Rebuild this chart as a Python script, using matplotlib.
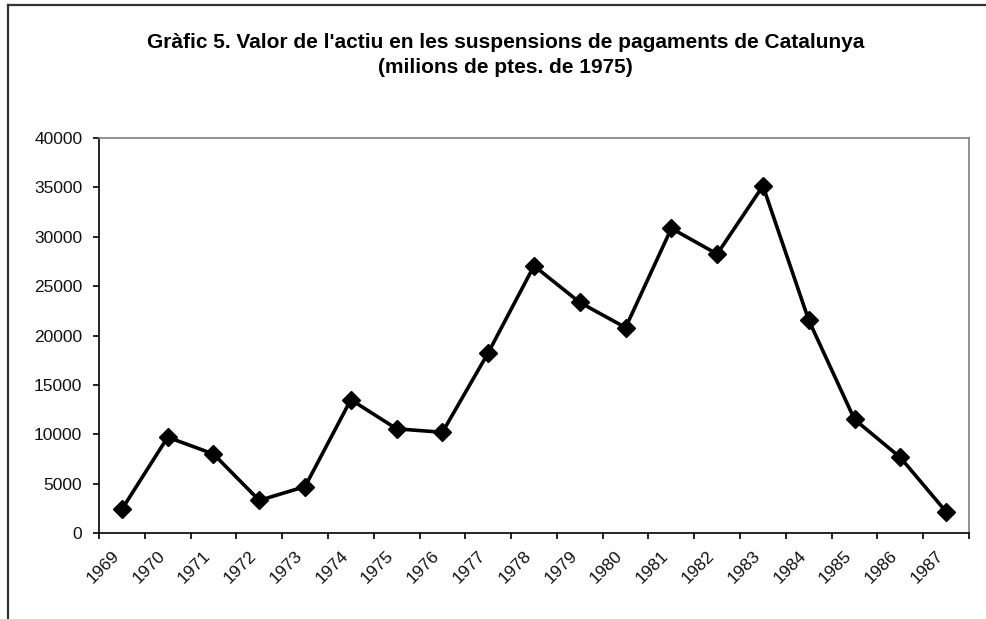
import matplotlib
matplotlib.use("Agg")
import matplotlib.pyplot as plt
from matplotlib.lines import Line2D
import matplotlib.transforms as mtransforms

years = [str(y) for y in range(1969, 1988)]
values = [2400, 9700, 8000, 3300, 4700, 13500, 10550, 10200, 18250,
          27050, 23350, 20800, 30850, 28250, 35150, 21550, 11500, 7650, 2150]
yticks = [0, 5000, 10000, 15000, 20000, 25000, 30000, 35000, 40000]
title = "Gràfic 5. Valor de l'actiu en les suspensions de pagaments de Catalunya\n(milions de ptes. de 1975)"

plt.rcParams['font.family'] = ['Liberation Sans', 'DejaVu Sans']

W, H = 987, 619
fig = plt.figure(figsize=(W / 100, H / 100), dpi=100)
fig.patch.set_facecolor('white')

# outer chart border (left and top visible)
fig.add_artist(Line2D([8 / W, 8 / W], [0, 1 - 5 / H], transform=fig.transFigure,
                      color='#333333', lw=1.6))
fig.add_artist(Line2D([8 / W, 1], [1 - 5 / H, 1 - 5 / H], transform=fig.transFigure,
                      color='#333333', lw=1.6))

left, right, bottom, top = 99 / W, 969 / W, 1 - 533 / H, 1 - 138 / H
ax = fig.add_axes([left, bottom, right - left, top - bottom])

x = list(range(len(years)))
ax.plot(x, values, color='black', lw=2.6, marker='D', markersize=9.5,
        markerfacecolor='black', markeredgecolor='black')

ax.set_xlim(-0.5, len(years) - 0.5)
ax.set_ylim(0, 40000)
ax.set_yticks(yticks)
ax.set_yticklabels([str(v) for v in yticks], fontsize=12.5, color='#111111')

ax.set_xticks([i - 0.5 for i in range(len(years) + 1)])
ax.set_xticklabels([])
ax.set_xticks(x, minor=True)
ax.set_xticklabels(years, minor=True, rotation=45, ha='right', va='top',
                   fontsize=12.5, color='#111111')
shift = mtransforms.ScaledTranslation(5 / 100, 0, fig.dpi_scale_trans)
for lbl in ax.get_xticklabels(minor=True):
    lbl.set_transform(lbl.get_transform() + shift)
ax.tick_params(axis='x', which='minor', length=0, pad=11)
ax.tick_params(axis='x', which='major', length=4, width=1.2, direction='out')
ax.tick_params(axis='y', length=4, width=1.2, direction='out', pad=8)

for s in ['left', 'bottom']:
    ax.spines[s].set_color('black')
    ax.spines[s].set_linewidth(1.2)
for s in ['top', 'right']:
    ax.spines[s].set_color('#808080')
    ax.spines[s].set_linewidth(1.2)

fig.text(0.512, 1 - 33 / H, title, ha='center', va='top', fontsize=15,
         fontweight='bold', linespacing=1.4)

fig.savefig('out.png', dpi=100)
